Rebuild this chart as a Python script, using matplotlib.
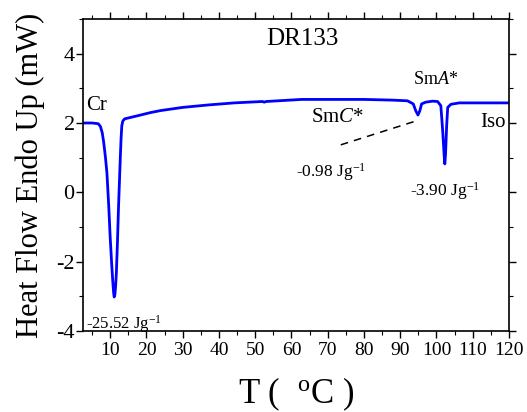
import matplotlib
matplotlib.use("Agg")
import matplotlib.pyplot as plt
from matplotlib.ticker import MultipleLocator

plt.rcParams['font.family'] = ['Liberation Serif', 'DejaVu Serif']
plt.rcParams['mathtext.fontset'] = 'custom'
plt.rcParams['mathtext.rm'] = 'Liberation Serif'
plt.rcParams['mathtext.it'] = 'Liberation Serif:italic'
plt.rcParams['axes.unicode_minus'] = False

# DSC trace (T in degC, heat flow in mW)
temp = [2.5, 5.0, 6.7, 7.3, 7.8, 8.2, 8.7, 9.1, 9.6, 10.0, 10.4, 10.7, 10.95, 11.1,
        11.3, 11.5, 11.7, 12.0, 12.3, 12.6, 12.8, 13.0, 13.2, 13.5, 14.0, 18.0,
        21.1, 24.0, 30.0, 37.0, 44.2, 52.0, 52.5, 53.0,
        62.8, 70.0, 80.0, 87.8, 92.0, 93.6, 94.3, 94.9, 95.4, 95.9, 97.0,
        98.9, 100.3, 101.2, 101.7, 102.1, 102.3, 102.5, 102.8, 103.1, 104.0,
        106.3, 112.0, 121.0]
heat = [2.00, 2.00, 1.98, 1.90, 1.72, 1.45, 1.00, 0.56, -0.40, -1.30, -2.05, -2.55, -2.90, -3.02,
        -2.95, -2.70, -2.33, -1.45, -0.42, 0.45, 1.03, 1.55, 1.92, 2.06, 2.12, 2.22,
        2.30, 2.36, 2.45, 2.52, 2.58, 2.62, 2.60, 2.62,
        2.68, 2.68, 2.68, 2.66, 2.64, 2.55, 2.35, 2.23, 2.35, 2.55, 2.60,
        2.63, 2.62, 2.50, 1.80, 1.10, 0.82, 1.10, 1.90, 2.45, 2.54,
        2.58, 2.58, 2.58]

fig = plt.figure(figsize=(5.27, 4.12), dpi=100)
ax = fig.add_axes([0.1575, 0.1966, 0.8083, 0.7573])

ax.plot(temp, heat, color='#0000ff', linewidth=2.0, solid_joinstyle='round')

# dashed guide from SmC* label to the small peak
ax.plot([73.6, 95.3], [1.37, 2.09], color='black', linestyle=(0, (5, 4)), linewidth=1.1)

ax.set_xlim(2.5, 120)
ax.set_ylim(-4, 5)
ax.xaxis.set_minor_locator(MultipleLocator(5))
ax.yaxis.set_minor_locator(MultipleLocator(1))
ax.set_yticks([-4, -2, 0, 2, 4])
ax.set_xticks(range(10, 121, 10))

ax.tick_params(axis='both', which='major', direction='out', length=5, width=1,
               top=True, right=True)
ax.tick_params(axis='both', which='minor', direction='out', length=3, width=0.8,
               top=True, right=True)
ax.tick_params(axis='x', labelsize=14, pad=3)
ax.tick_params(axis='y', labelsize=16, pad=1)
for side in ax.spines.values():
    side.set_linewidth(1.2)

ax.set_xlabel('T (  $^{\\mathregular{o}}$C )', fontsize=25, labelpad=12)
ax.set_ylabel('Heat Flow Endo Up (mW)', fontsize=22, labelpad=8)

ax.text(63, 4.43, 'DR133', fontsize=18, ha='center', va='center')
ax.text(3.3, 2.5, 'Cr', fontsize=15, ha='left', va='center')
ax.text(72.8, 2.15, 'Sm$\\mathit{C}$*', fontsize=15, ha='center', va='center')
ax.text(99.7, 3.25, 'Sm$\\mathit{A}$*', fontsize=13, ha='center', va='center')
ax.text(115.5, 2.0, 'Iso', fontsize=15, ha='center', va='center')
ax.text(71, 0.58, '-0.98 Jg$^{\\mathregular{-1}}$', fontsize=12.5, ha='center', va='center')
ax.text(102.5, 0.03, '-3.90 Jg$^{\\mathregular{-1}}$', fontsize=12.5, ha='center', va='center')
ax.text(3.3, -3.8, '-25.52 Jg$^{\\mathregular{-1}}$', fontsize=12, ha='left', va='center')

fig.savefig('out.png', dpi=100)
